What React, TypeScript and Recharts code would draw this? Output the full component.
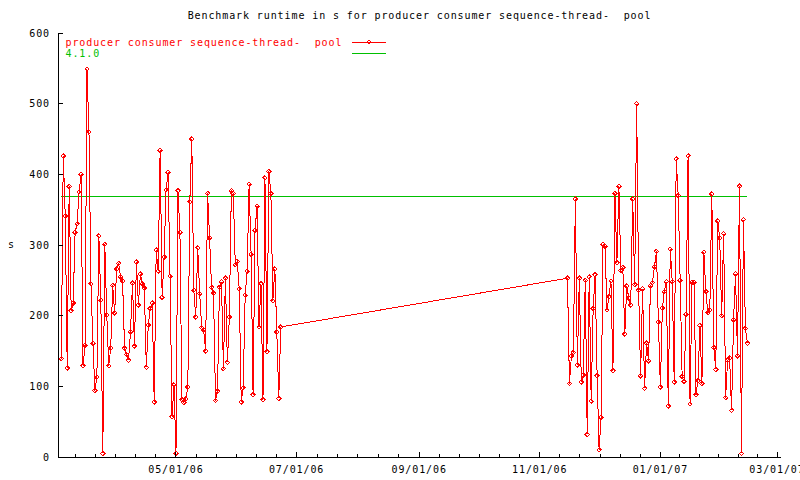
import React from "react";
import { LineChart, Line, XAxis, YAxis } from "recharts";

const TITLE = "Benchmark runtime in s for producer consumer sequence-thread-  pool";
const SERIES_NAME = "producer consumer sequence-thread-  pool";
const REF_NAME = "4.1.0";
const Y_LABEL = "s";

// one run per day, two measuring periods
const run1Start = "2006-03-04";
const run1Values = [
  139, 426, 341, 126, 383, 207, 218, 318, 330, 375,
  400, 129, 158, 549, 460, 245, 161, 94, 113, 313,
  222, 5, 301, 201, 129, 154, 243, 204, 266, 274,
  255, 249, 154, 145, 137, 177, 246, 157, 276, 215,
  259, 245, 239, 127, 187, 210, 218, 78, 293, 263,
  434, 226, 283, 378, 403, 256, 57, 102, 5, 377,
  318, 81, 77, 82, 99, 361, 450, 236, 198, 296,
  231, 183, 180, 150, 373, 310, 240, 232, 80, 93,
  240, 248, 125, 253, 134, 198, 377, 373, 272, 277,
  238, 78, 98, 229, 263, 386, 287, 88, 321, 355,
  184, 245, 81, 395, 149, 404, 373, 221, 266, 177,
  83, 184,
];
const run2Start = "2006-11-15";
const run2Values = [
  253, 104, 143, 148, 365, 130, 253, 106, 116, 250,
  32, 255, 79, 210, 258, 115, 10, 56, 301, 298,
  208, 227, 249, 122, 373, 275, 383, 264, 268, 174,
  242, 225, 215, 365, 244, 500, 236, 115, 238, 97,
  161, 136, 242, 247, 269, 291, 191, 99, 211, 234,
  248, 72, 294, 248, 106, 422, 370, 250, 114, 107,
  202, 426, 75, 247, 247, 88, 108, 186, 104, 290,
  234, 204, 208, 372, 155, 124, 334, 310, 200, 316,
  84, 137, 140, 66, 194, 259, 143, 383, 5, 336,
  182, 161,
];
const refValue = 368;

const xMajorDates = ["2006-05-01", "2006-07-01", "2006-09-01", "2006-11-01", "2007-01-01", "2007-03-01"];
const xRange = ["2006-03-02T08:00:00Z", "2007-03-03T00:00:00Z"];
const yTicks = [0, 100, 200, 300, 400, 500, 600];

const DAY = 86400000;
const EPOCH = Date.parse("2006-05-01");
const toDay = (s: string) => (Date.parse(s) - EPOCH) / DAY;

const fmtDate = (d: number) => {
  const dt = new Date(EPOCH + d * DAY);
  const p = (n: number) => String(n).padStart(2, "0");
  return `${p(dt.getUTCMonth() + 1)}/${p(dt.getUTCDate())}/${p(dt.getUTCFullYear() % 100)}`;
};

const series = [
  ...run1Values.map((v, i) => ({ t: toDay(run1Start) + i, v })),
  ...run2Values.map((v, i) => ({ t: toDay(run2Start) + i, v })),
];
const refLine = [
  { t: series[0].t, v: refValue },
  { t: series[series.length - 1].t, v: refValue },
];

const lo = toDay(xRange[0]);
const hi = toDay(xRange[1]);
const majors = xMajorDates.map(toDay);
const MAJOR = new Set(majors);
const minors: number[] = [];
majors.forEach((m, i) => {
  const step = ((i < majors.length - 1 ? majors[i + 1] : m + 61) - m) / 6;
  for (let k = 1; k < 6; k++) if (m + k * step < hi) minors.push(m + k * step);
  if (i === 0) for (let k = 1; m - k * step > lo; k++) minors.push(m - k * step);
});
const xTicks = [...majors, ...minors].sort((a, b) => a - b);

const RED = "#ff0000";
const GREEN = "#00c000";
const FONT = {
  fontFamily: "DejaVu Sans Mono, monospace",
  fontSize: 10,
  letterSpacing: 0.9,
  fill: "#000",
  whiteSpace: "pre" as const,
};

const XTick = (props: any) => {
  const { x, y, payload, top } = props;
  const major = MAJOR.has(payload.value);
  const len = major ? 5 : 3;
  return (
    <g>
      <line x1={x} x2={x} y1={y} y2={top ? y + len : y - len} stroke="#000" />
      {!top && major && (
        <text x={x} y={y + 15.5} textAnchor="middle" style={FONT}>
          {fmtDate(payload.value)}
        </text>
      )}
    </g>
  );
};

const YTick = (props: any) => {
  const { x, y, payload, right } = props;
  return (
    <g>
      <line x1={x} x2={right ? x - 5 : x + 5} y1={y} y2={y} stroke="#000" />
      {!right && (
        <text x={x - 8} y={y + 3.5} textAnchor="end" style={FONT}>
          {payload.value}
        </text>
      )}
    </g>
  );
};

const Diamond = (props: any) => {
  const { cx, cy, index } = props;
  if (cx == null || cy == null) return <g key={index} />;
  const r = 2.2;
  return (
    <path
      key={index}
      d={`M${cx},${cy - r}L${cx + r},${cy}L${cx},${cy + r}L${cx - r},${cy}Z`}
      stroke={RED}
      fill="none"
    />
  );
};

export default function App() {
  return (
    <div style={{ position: "absolute", left: 0, top: 0, width: 800, height: 480, background: "#fff", shapeRendering: "crispEdges" }}>
      <LineChart width={800} height={480} margin={{ top: 33, right: 19, bottom: 0, left: 0 }}>
        <XAxis
          xAxisId="b"
          dataKey="t"
          type="number"
          domain={[lo, hi]}
          allowDataOverflow
          ticks={xTicks}
          interval={0}
          height={23}
          tickSize={0}
          tickMargin={0}
          tickLine={false}
          axisLine={{ stroke: "#000" }}
          tick={(p: any) => <XTick {...p} />}
        />
        <XAxis
          xAxisId="t"
          orientation="top"
          dataKey="t"
          type="number"
          domain={[lo, hi]}
          allowDataOverflow
          ticks={xTicks}
          interval={0}
          height={0}
          tickSize={0}
          tickMargin={0}
          tickLine={false}
          axisLine={{ stroke: "#000" }}
          tick={(p: any) => <XTick {...p} top />}
        />
        <YAxis
          yAxisId="l"
          type="number"
          domain={[0, 600]}
          allowDataOverflow
          ticks={yTicks}
          interval={0}
          width={58}
          tickSize={0}
          tickMargin={0}
          tickLine={false}
          axisLine={{ stroke: "#000" }}
          tick={(p: any) => <YTick {...p} />}
        />
        <YAxis
          yAxisId="r"
          orientation="right"
          type="number"
          domain={[0, 600]}
          allowDataOverflow
          ticks={yTicks}
          interval={0}
          width={0}
          tickSize={0}
          tickMargin={0}
          tickLine={false}
          axisLine={{ stroke: "#000" }}
          tick={(p: any) => <YTick {...p} right />}
        />
        <Line
          xAxisId="t"
          yAxisId="r"
          data={refLine}
          dataKey="v"
          stroke={GREEN}
          strokeWidth={1}
          dot={false}
          isAnimationActive={false}
        />
        <Line
          xAxisId="b"
          yAxisId="l"
          data={series}
          dataKey="v"
          stroke={RED}
          strokeWidth={1}
          dot={(p: any) => <Diamond {...p} />}
          activeDot={false}
          isAnimationActive={false}
        />
      </LineChart>
      <svg width={800} height={480} style={{ position: "absolute", left: 0, top: 0, pointerEvents: "none" }}>
        <text x={419.5} y={19} textAnchor="middle" style={FONT}>{TITLE}</text>
        <text x={8} y={248} style={FONT}>{Y_LABEL}</text>
        <text x={65.5} y={46} style={{ ...FONT, fill: RED }}>{SERIES_NAME}</text>
        <line x1={352} x2={386} y1={42} y2={42} stroke={RED} />
        <path d="M369,39.8L371.2,42L369,44.2L366.8,42Z" stroke={RED} fill="none" />
        <text x={65.5} y={57} style={{ ...FONT, fill: GREEN }}>{REF_NAME}</text>
        <line x1={352} x2={386} y1={53} y2={53} stroke={GREEN} />
      </svg>
    </div>
  );
}
